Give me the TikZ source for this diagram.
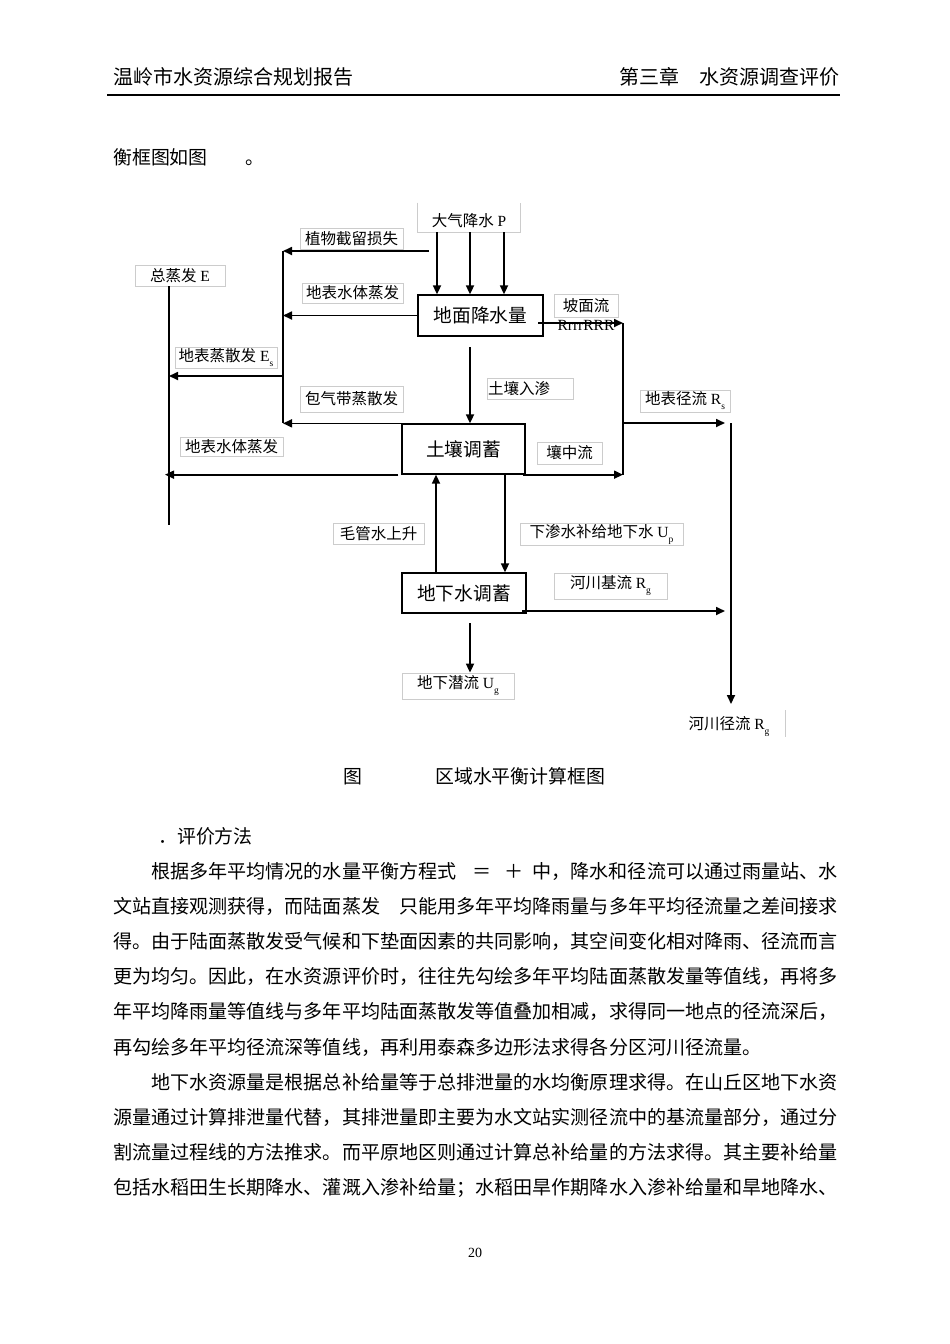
\documentclass[tikz,border=0pt]{standalone}
\usepackage{fontspec}
\setmainfont{Liberation Serif}
\newfontfamily\cjk{Noto Sans CJK SC}
\usetikzlibrary{arrows.meta,calc}

\newcommand\sub[1]{\raisebox{-5pt}{\fontsize{9.5}{9.5}\selectfont #1}}

\tikzset{
  flow/.style={line width=1.7pt,-{Triangle[length=9pt,width=8pt]}},
  wire/.style={line width=1.7pt},
  store/.style={draw,line width=1.3pt,inner sep=0pt,font=\cjk\fontsize{18.7}{20}\selectfont},
  lbl/.style={draw=gray!40,line width=0.8pt,inner sep=0pt,font=\fontsize{15.5}{17}\selectfont},
  plain/.style={inner sep=0pt,font=\cjk\fontsize{18.9}{35.2}\selectfont},
  bodyline/.style={inner sep=0pt,anchor=base west,font=\cjk\fontsize{19.07}{35.2}\selectfont},
}

\begin{document}
\begin{tikzpicture}[x=1pt,y=-1pt]
	\useasboundingbox[fill=white] (0,0) rectangle (950,1344);

	% page head
	\node[plain,anchor=base west,font=\cjk\fontsize{20}{22}\selectfont] (title) at (113,84.6) {温岭市水资源综合规划报告};
	\node[plain,anchor=base east,font=\cjk\fontsize{20}{22}\selectfont] (chapter) at (840,84.6) {第三章　水资源调查评价};
	\draw[line width=2pt] (107,95) -- (840,95);
	\node[plain,anchor=base west] (intro) at (113,164.5) {衡框图如图　　。};

	% storages
	\node[store,minimum width=125pt,minimum height=41pt] (surf) at (480.5,315.5) {地面降水量};
	\node[store,minimum width=123pt,minimum height=50pt] (soil) at (463.5,449) {土壤调蓄};
	\node[store,minimum width=124pt,minimum height=40pt] (gw) at (464,593) {地下水调蓄};

	% labels
	\node[lbl,draw=none,minimum width=102pt,minimum height=22pt] (rain) at (469,221) {{\cjk 大气降水} P};
	\draw[gray!40,line width=0.8pt] ([yshift=7pt]rain.north west) -- (rain.south west) -- (rain.south east) -- ([yshift=7pt]rain.north east);
	\node[lbl,minimum width=103pt,minimum height=21pt] (lInt) at (351.5,238.5) {\cjk 植物截留损失};
	\node[lbl,minimum width=90pt,minimum height=21pt] (lE) at (180,275.5) {{\cjk 总蒸发} E};
	\node[lbl,minimum width=101pt,minimum height=20pt] (lSurfEv) at (352.5,293) {\cjk 地表水体蒸发};
	\node[lbl,minimum width=102pt,minimum height=21pt] (lEs) at (226,357.5) {{\cjk 地表蒸散发} E\sub{s}};
	\node[lbl,minimum width=64pt,minimum height=23pt] (lSlope) at (586,305.5) {\cjk 坡面流};
	\node[inner sep=0pt,font=\fontsize{15.5}{16}\selectfont] (rrr) at (586,325) {RrrrRRR};
	\node[lbl,text width=84pt,align=left,inner xsep=1pt,minimum height=21pt] (lInf) at (530,388.5) {\cjk 土壤入渗};
	\node[lbl,minimum width=103pt,minimum height=26pt] (lVad) at (351.5,399) {\cjk 包气带蒸散发};
	\node[lbl,minimum width=90pt,minimum height=22pt] (lRs) at (685,401) {{\cjk 地表径流} R\sub{s}};
	\node[lbl,minimum width=103pt,minimum height=19pt] (lSurfEv2) at (231.5,446.5) {\cjk 地表水体蒸发};
	\node[lbl,minimum width=65pt,minimum height=22pt] (lInter) at (569.5,453) {\cjk 壤中流};
	\node[lbl,minimum width=91pt,minimum height=21pt] (lCap) at (378.5,533.5) {\cjk 毛管水上升};
	\node[lbl,minimum width=163pt,minimum height=22pt] (lUp) at (601.5,534) {{\cjk 下渗水补给地下水} U\sub{p}};
	\node[lbl,minimum width=113pt,minimum height=26pt] (lRg) at (610.5,586) {{\cjk 河川基流} R\sub{g}};
	\node[lbl,minimum width=112pt,minimum height=26pt] (lUg) at (458,686) {{\cjk 地下潜流} U\sub{g}};
	\node[lbl,draw=none] (lRiver) at (729,727) {{\cjk 河川径流} R\sub{g}};
	\draw[gray!40,line width=0.8pt] (785,710) -- (785,737);

	% collector lines and branch points
	\coordinate (colL) at (169,0);
	\coordinate (colM) at (283,0);
	\coordinate (colR) at (623,0);
	\coordinate (colRiver) at (731,0);
	\coordinate (intA) at (429,251);
	\coordinate (esA) at (283,376);
	\coordinate (infA) at (470,347);
	\coordinate (slA) at (538,323);
	\coordinate (rsA) at (623,423);
	\coordinate (bfA) at (522,611);
	\coordinate (ugA) at (470,623);
	\coordinate (capX) at (436,0);
	\coordinate (percX) at (505,0);
	\coordinate (eEnd) at (169,525);
	\coordinate (rivEnd) at (731,704);

	% flows
	\foreach \dx in {-32,1,35}
		\draw[flow] ([xshift=\dx pt]rain.south) -- ([xshift=\dx pt]rain.south |- surf.north);
	\draw[flow] (intA) -- (intA -| colM);
	\draw[flow] (surf.west) -- (surf.west -| colM);
	\draw[wire] (colM |- intA) -- (colM |- soil.north);
	\draw[flow] (esA) -- (esA -| colL);
	\draw[wire] (colL |- lE.south) -- (eEnd);
	\draw[flow] ([xshift=5pt]soil.north west) -- (soil.north west -| colM);
	\draw[flow] ([xshift=-3pt]soil.south west) -- ([xshift=-4pt]soil.south west -| colL);
	\draw[flow] (infA) -- (infA |- soil.north);
	\draw[flow] (slA) -- (slA -| colR);
	\draw[wire] (slA -| colR) -- (colR |- soil.south);
	\draw[flow] ([xshift=-3pt]soil.south east) -- (soil.south east -| colR);
	\draw[flow] (rsA) -- ([xshift=-6pt]rsA -| colRiver);
	\draw[flow] (colRiver |- rsA) -- (rivEnd);
	\draw[flow] (bfA) -- ([xshift=-6pt]bfA -| colRiver);
	\draw[flow] (capX |- gw.north) -- (capX |- soil.south);
	\draw[flow] (percX |- soil.south) -- (percX |- gw.north);
	\draw[flow] (ugA) -- (ugA |- lUg.north);

	% caption
	\node[plain,anchor=base] (figno) at (353,783) {图};
	\node[plain,anchor=base west] (figtitle) at (435,783) {区域水平衡计算框图};

	% text
	\node[plain,anchor=base west] (method) at (158,843) {．评价方法};
	\node[bodyline] (la) at (113,878) {\hspace*{2em}根据多年平均情况的水量平衡方程式\hspace{16pt}＝\hspace{13pt}＋\hspace{9pt}中，降水和径流可以通过雨量站、水};
	\node[bodyline] (lb) at (113,913.2) {文站直接观测获得，而陆面蒸发　只能用多年平均降雨量与多年平均径流量之差间接求};
	\node[bodyline] (lc) at (113,948.4) {得。由于陆面蒸散发受气候和下垫面因素的共同影响，其空间变化相对降雨、径流而言};
	\node[bodyline] (ld) at (113,983.6) {更为均匀。因此，在水资源评价时，往往先勾绘多年平均陆面蒸散发量等值线，再将多};
	\node[bodyline] (le) at (113,1018.8) {年平均降雨量等值线与多年平均陆面蒸散发等值叠加相减，求得同一地点的径流深后，};
	\node[bodyline] (lf) at (113,1054) {再勾绘多年平均径流深等值线，再利用泰森多边形法求得各分区河川径流量。};
	\node[bodyline] (lg) at (113,1089.2) {\hspace*{2em}地下水资源量是根据总补给量等于总排泄量的水均衡原理求得。在山丘区地下水资};
	\node[bodyline] (lh) at (113,1124.4) {源量通过计算排泄量代替，其排泄量即主要为水文站实测径流中的基流量部分，通过分};
	\node[bodyline] (li) at (113,1159.6) {割流量过程线的方法推求。而平原地区则通过计算总补给量的方法求得。其主要补给量};
	\node[bodyline] (lj) at (113,1194.8) {包括水稻田生长期降水、灌溉入渗补给量；水稻田旱作期降水入渗补给量和旱地降水、};

	\node[inner sep=0pt,font=\fontsize{14}{14}\selectfont,anchor=base] (pageno) at (475,1257) {20};
\end{tikzpicture}
\end{document}
